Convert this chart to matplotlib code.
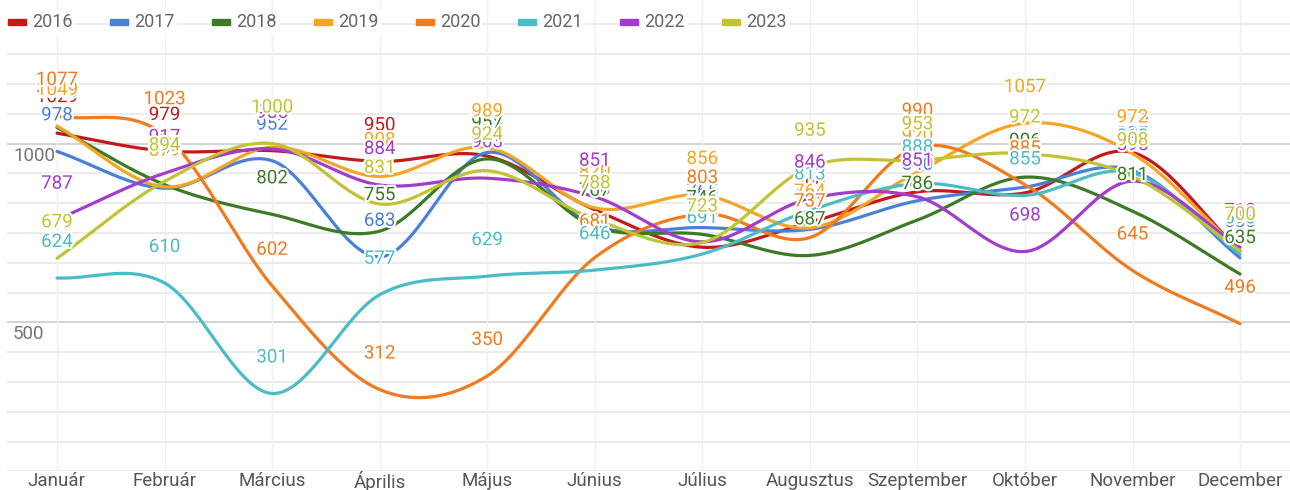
import numpy as np
import matplotlib
matplotlib.use("Agg")
import matplotlib.pyplot as plt
from matplotlib import patheffects as pe
from matplotlib.transforms import blended_transform_factory

plt.rcParams['font.family'] = ['Roboto', 'DejaVu Sans']

months = ['Január', 'Február', 'Március', 'Április', 'Május', 'Június',
          'Július', 'Augusztus', 'Szeptember', 'Október', 'November', 'December']
years = ['2016', '2017', '2018', '2019', '2020', '2021', '2022', '2023']

s2016 = [1029, 979, 980, 950, 965, 815, 710, 780, 865, 862, 975, 700]
s2017 = [978, 875, 952, 683, 975, 770, 765, 760, 840, 878, 925, 680]
s2018 = [1045, 885, 802, 755, 957, 767, 746, 687, 786, 906, 811, 635]
s2019 = [1049, 879, 990, 908, 989, 820, 856, 764, 920, 1057, 972, 700]
s2020 = [1077, 1023, 602, 312, 350, 681, 803, 737, 990, 885, 645, 496]
s2021 = [624, 610, 301, 577, 629, 646, 691, 813, 888, 855, 918, 690]
s2022 = [787, 917, 985, 884, 903, 851, 725, 846, 851, 698, 895, 710]
s2023 = [679, 894, 1000, 831, 924, 788, 723, 935, 953, 972, 908, 700]
series = [s2016, s2017, s2018, s2019, s2020, s2021, s2022, s2023]

colors = ['#c21a1a', '#4a80d8', '#3c7a26', '#f4a523', '#f07a1e',
          '#4bbcc6', '#a23ccd', '#c2c334']

W, H = 1290, 490
fig = plt.figure(figsize=(W / 100, H / 100), dpi=100)
fig.patch.set_facecolor('white')

# pixel geometry
x_jan, x_step = 57.0, 107.55
y_bot_px = 471.3
ax = fig.add_axes([7 / W, (H - y_bot_px) / H, (W - 7) / W, y_bot_px / H])
ax.set_xlim((7 - x_jan) / x_step, (W - x_jan) / x_step)
ax.set_ylim(83.333, 1401.4)
ax.axis('off')

# gridlines
step = 500 / 6
for k in range(1, 17):
    v = k * step
    major = abs(v - 500) < 1 or abs(v - 1000) < 1
    ax.axhline(v, color='#c8c8c8' if major else '#e6e6e6', lw=1.1, zorder=0)
for i in range(len(months)):
    ax.axvline(i, color='#f0f0f0', lw=1, zorder=0)


def spline(y):
    y = np.asarray(y, float)
    n = len(y)
    m = np.zeros(n)
    m[1:-1] = (y[2:] - y[:-2]) / 2
    m[0] = y[1] - y[0]
    m[-1] = y[-1] - y[-2]
    xs, ys = [], []
    t = np.linspace(0, 1, 30)
    h00 = 2 * t**3 - 3 * t**2 + 1
    h10 = t**3 - 2 * t**2 + t
    h01 = -2 * t**3 + 3 * t**2
    h11 = t**3 - t**2
    for i in range(n - 1):
        xs.append(i + t)
        ys.append(h00 * y[i] + h10 * m[i] + h01 * y[i + 1] + h11 * m[i + 1])
    return np.concatenate(xs), np.concatenate(ys)


for vals, c in zip(series, colors):
    xs, ys = spline(vals)
    ax.plot(xs, ys, color=c, lw=2.3, zorder=2, solid_capstyle='round')

# axis labels
for v, lab in [(1000, '1000'), (500, '500')]:
    ax.annotate(lab, xy=(0, v), xycoords=blended_transform_factory(fig.transFigure, ax.transData),
                xytext=(13 * 0.72, -12 * 0.72), textcoords='offset points',
                ha='left', va='center', fontsize=13.5, color='#757575', zorder=1)

# data labels
halo = [pe.withStroke(linewidth=3, foreground='white')]
for vals, c in zip(series, colors):
    for i, v in enumerate(vals):
        ax.annotate(str(v), xy=(i, v), xytext=(0, 36 * 0.72), textcoords='offset points',
                    ha='center', va='center', fontsize=13.5, color=c,
                    path_effects=halo, zorder=5, annotation_clip=False)

# x labels
tr = blended_transform_factory(ax.transData, fig.transFigure)
for i, m in enumerate(months):
    ax.text(i, (H - 481) / H, m, transform=tr, ha='center', va='center',
            fontsize=13.5, color='#555555')

# legend
for i, (yr, c) in enumerate(zip(years, colors)):
    x0 = 8 + 102 * i
    fig.patches.append(plt.Rectangle((x0 / W, (H - 25) / H), 18 / W, 6 / H,
                                     transform=fig.transFigure, color=c, zorder=5))
    fig.text((x0 + 24) / W, (H - 22) / H, yr, ha='left', va='center', fontsize=13,
             color='#666666', zorder=5,
             bbox=dict(boxstyle='square,pad=0.15', fc='white', ec='none'))

fig.savefig('out.png', dpi=100, facecolor='white')
